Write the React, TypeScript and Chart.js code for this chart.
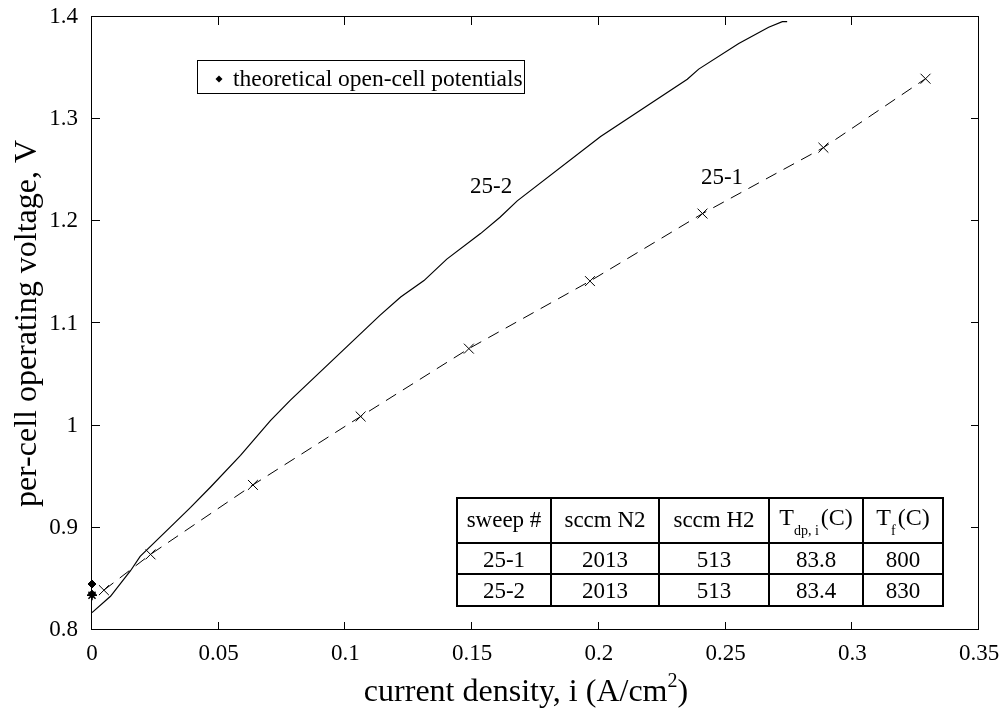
import React, { useEffect, useRef } from "react";
import { Chart, registerables } from "chart.js";

Chart.register(...registerables);

// ---- data ----
const sweep252X = [0, 0.0073, 0.0152, 0.019, 0.031, 0.0389, 0.0468, 0.0586, 0.0704, 0.0783, 0.1136, 0.1218, 0.131, 0.14, 0.1533, 0.161, 0.1678, 0.2007, 0.2349, 0.2394, 0.2552, 0.267, 0.2724, 0.2743];
const sweep252Y = [0.817, 0.833, 0.858, 0.872, 0.901, 0.92, 0.94, 0.971, 1.005, 1.025, 1.108, 1.126, 1.142, 1.163, 1.188, 1.204, 1.22, 1.283, 1.339, 1.349, 1.374, 1.39, 1.3955, 1.3955];

const sweep251X = [0.0047, 0.0231, 0.0635, 0.106, 0.1487, 0.1965, 0.2409, 0.2886, 0.3289];
const sweep251Y = [0.839, 0.874, 0.942, 1.009, 1.0754, 1.1415, 1.2076, 1.2721, 1.3396];

const openCellDiamondX = [0, 0];
const openCellDiamondY = [0.845, 0.835];
const openCellStarX = [0];
const openCellStarY = [0.834];

const xTicks = [0, 0.05, 0.1, 0.15, 0.2, 0.25, 0.3, 0.35];
const xTickLabels = ["0", "0.05", "0.1", "0.15", "0.2", "0.25", "0.3", "0.35"];
const yTicks = [0.8, 0.9, 1.0, 1.1, 1.2, 1.3, 1.4];
const yTickLabels = ["0.8", "0.9", "1", "1.1", "1.2", "1.3", "1.4"];

const legendText = "theoretical open-cell potentials";
const curveLabels = ["25-2", "25-1"];
const curveLabelX = [0.1575, 0.2486];
const curveLabelY = [1.2335, 1.2428];

const tableHeader = [
  { main: "sweep #", sub: "", tail: "" },
  { main: "sccm N2", sub: "", tail: "" },
  { main: "sccm H2", sub: "", tail: "" },
  { main: "T", sub: "dp, i", tail: "(C)" },
  { main: "T", sub: "f", tail: "(C)" },
];
const tableRows = [
  ["25-1", "2013", "513", "83.8", "800"],
  ["25-2", "2013", "513", "83.4", "830"],
];

const xTitleMain = "current density, i (A/cm";
const xTitleSup = "2";
const xTitleEnd = ")";
const yTitle = "per-cell operating voltage, V";

// ---- styles ----
const FONT = '"Liberation Serif", "Times New Roman", Times, serif';
const TICK_SIZE = 23;

const tableCols = [457, 551, 659, 769, 863, 943];
const tableRowsY = [498, 543, 574, 606];

const overlayPlugin = {
  id: "overlay",
  afterDraw(chart: any) {
    const { ctx, chartArea, scales } = chart;
    const { left, top, right, bottom } = chartArea;
    const xs = scales.x;
    const ys = scales.y;
    ctx.save();
    ctx.strokeStyle = "#000";
    ctx.fillStyle = "#000";
    ctx.lineWidth = 1;
    ctx.setLineDash([]);

    // frame
    ctx.strokeRect(left - 0.5, top - 0.5, right - left, bottom - top);

    // inward ticks
    const tl = 8;
    ctx.beginPath();
    xTicks.forEach((v) => {
      const px = Math.round(xs.getPixelForValue(v)) - 0.5;
      ctx.moveTo(px, bottom);
      ctx.lineTo(px, bottom - tl);
      ctx.moveTo(px, top);
      ctx.lineTo(px, top + tl);
    });
    yTicks.forEach((v) => {
      const py = Math.round(ys.getPixelForValue(v)) - 0.5;
      ctx.moveTo(left, py);
      ctx.lineTo(left + tl, py);
      ctx.moveTo(right, py);
      ctx.lineTo(right - tl, py);
    });
    ctx.stroke();

    // legend
    ctx.lineWidth = 1;
    ctx.strokeRect(197.5, 60.5, 327, 33);
    ctx.beginPath();
    ctx.moveTo(219, 75.5);
    ctx.lineTo(222.5, 79);
    ctx.lineTo(219, 82.5);
    ctx.lineTo(215.5, 79);
    ctx.closePath();
    ctx.fill();
    ctx.font = `23.5px ${FONT}`;
    ctx.textAlign = "left";
    ctx.textBaseline = "alphabetic";
    ctx.fillText(legendText, 233, 86);

    // curve labels
    ctx.font = `23px ${FONT}`;
    ctx.textAlign = "center";
    ctx.textBaseline = "middle";
    curveLabels.forEach((t, i) => {
      ctx.fillText(t, xs.getPixelForValue(curveLabelX[i]), ys.getPixelForValue(curveLabelY[i]));
    });

    // table
    ctx.lineWidth = 2;
    ctx.beginPath();
    tableCols.forEach((cx) => {
      ctx.moveTo(cx, tableRowsY[0]);
      ctx.lineTo(cx, tableRowsY[tableRowsY.length - 1]);
    });
    tableRowsY.forEach((ry) => {
      ctx.moveTo(tableCols[0] - 1, ry);
      ctx.lineTo(tableCols[tableCols.length - 1] + 1, ry);
    });
    ctx.stroke();

    ctx.textBaseline = "alphabetic";
    tableHeader.forEach((h, c) => {
      const cx = (tableCols[c] + tableCols[c + 1]) / 2;
      const base = 527;
      if (!h.sub) {
        ctx.font = `23px ${FONT}`;
        ctx.textAlign = "center";
        ctx.fillText(h.main, cx, base);
      } else {
        ctx.font = `24px ${FONT}`;
        const wMain = ctx.measureText(h.main).width;
        const wTail = ctx.measureText(h.tail).width;
        ctx.font = `14px ${FONT}`;
        const wSub = ctx.measureText(h.sub).width;
        const gap = 2;
        const total = wMain + wSub + gap + wTail;
        const x0 = cx - total / 2;
        ctx.textAlign = "left";
        ctx.font = `24px ${FONT}`;
        ctx.fillText(h.main, x0, base - 2);
        ctx.font = `14px ${FONT}`;
        ctx.fillText(h.sub, x0 + wMain, base + 8);
        ctx.font = `24px ${FONT}`;
        ctx.fillText(h.tail, x0 + wMain + wSub + gap, base - 2);
      }
    });
    ctx.font = `23px ${FONT}`;
    ctx.textAlign = "center";
    tableRows.forEach((row, r) => {
      const base = r === 0 ? 567 : 598;
      row.forEach((cell, c) => {
        const cx = (tableCols[c] + tableCols[c + 1]) / 2;
        ctx.fillText(cell, cx, base);
      });
    });

    // x axis title
    ctx.font = `32px ${FONT}`;
    const wA = ctx.measureText(xTitleMain).width;
    const wC = ctx.measureText(xTitleEnd).width;
    ctx.font = `20px ${FONT}`;
    const wB = ctx.measureText(xTitleSup).width;
    const totalX = wA + wB + wC;
    const xStart = 526 - totalX / 2;
    const xBase = 701;
    ctx.textAlign = "left";
    ctx.font = `32px ${FONT}`;
    ctx.fillText(xTitleMain, xStart, xBase);
    ctx.font = `20px ${FONT}`;
    ctx.fillText(xTitleSup, xStart + wA, xBase - 14);
    ctx.font = `32px ${FONT}`;
    ctx.fillText(xTitleEnd, xStart + wA + wB, xBase);

    // y axis title
    ctx.save();
    ctx.translate(28, (top + bottom) / 2);
    ctx.rotate(-Math.PI / 2);
    ctx.textAlign = "center";
    ctx.textBaseline = "middle";
    ctx.font = `32px ${FONT}`;
    ctx.fillText(yTitle, 0, 0);
    ctx.restore();

    ctx.restore();
  },
};

export default function App() {
  const canvasRef = useRef<HTMLCanvasElement | null>(null);

  useEffect(() => {
    const canvas = canvasRef.current;
    if (!canvas) return;
    const toPts = (xa: number[], ya: number[]) => xa.map((x, i) => ({ x, y: ya[i] }));

    const chart = new Chart(canvas, {
      type: "scatter",
      data: {
        datasets: [
          {
            label: "25-2",
            data: toPts(sweep252X, sweep252Y),
            showLine: true,
            borderColor: "#000",
            borderWidth: 1.2,
            pointRadius: 0,
            tension: 0,
            clip: false,
          },
          {
            label: "25-1",
            data: toPts(sweep251X, sweep251Y),
            showLine: true,
            borderColor: "#000",
            borderWidth: 1,
            borderDash: [12, 8],
            pointStyle: "crossRot",
            pointRadius: 7,
            pointBorderWidth: 1,
            pointBorderColor: "#000",
            pointBackgroundColor: "#000",
            tension: 0,
            clip: false,
          },
          {
            label: "theoretical open-cell potentials",
            data: toPts(openCellDiamondX, openCellDiamondY),
            showLine: false,
            pointStyle: "rectRot",
            pointRadius: 4,
            pointBorderWidth: 1,
            pointBorderColor: "#000",
            pointBackgroundColor: "#000",
            clip: false,
          },
          {
            label: "open-cell (star)",
            data: toPts(openCellStarX, openCellStarY),
            showLine: false,
            pointStyle: "star",
            pointRadius: 5,
            pointBorderWidth: 1.5,
            pointBorderColor: "#000",
            pointBackgroundColor: "#000",
            clip: false,
          },
        ],
      },
      options: {
        animation: false,
        responsive: false,
        maintainAspectRatio: false,
        events: [],
        layout: { padding: { left: 0, right: 24, top: 17, bottom: 0 } },
        plugins: { legend: { display: false }, tooltip: { enabled: false } },
        scales: {
          x: {
            type: "linear",
            min: 0,
            max: 0.35,
            afterBuildTicks: (s: any) => {
              s.ticks = xTicks.map((v) => ({ value: v }));
            },
            afterFit: (s: any) => {
              s.height = 79;
              s.paddingLeft = 0;
              s.paddingRight = 0;
            },
            ticks: {
              autoSkip: false,
              maxRotation: 0,
              padding: 10,
              color: "#000",
              font: { family: FONT, size: TICK_SIZE },
              callback: (v: any) => xTickLabels[xTicks.findIndex((t) => Math.abs(t - v) < 1e-9)],
            },
            grid: { display: false, drawTicks: false },
            border: { display: false },
          },
          y: {
            type: "linear",
            min: 0.8,
            max: 1.4,
            afterBuildTicks: (s: any) => {
              s.ticks = yTicks.map((v) => ({ value: v }));
            },
            afterFit: (s: any) => {
              s.width = 92;
              s.paddingTop = 0;
              s.paddingBottom = 0;
            },
            ticks: {
              autoSkip: false,
              padding: 14,
              color: "#000",
              font: { family: FONT, size: TICK_SIZE },
              callback: (v: any) => yTickLabels[yTicks.findIndex((t) => Math.abs(t - v) < 1e-9)],
            },
            grid: { display: false, drawTicks: false },
            border: { display: false },
          },
        },
      } as any,
      plugins: [overlayPlugin],
    });
    return () => chart.destroy();
  }, []);

  return (
    <div style={{ position: "fixed", left: 0, top: 0, width: 1003, height: 709, background: "#fff" }}>
      <canvas ref={canvasRef} width={1003} height={709} />
    </div>
  );
}
